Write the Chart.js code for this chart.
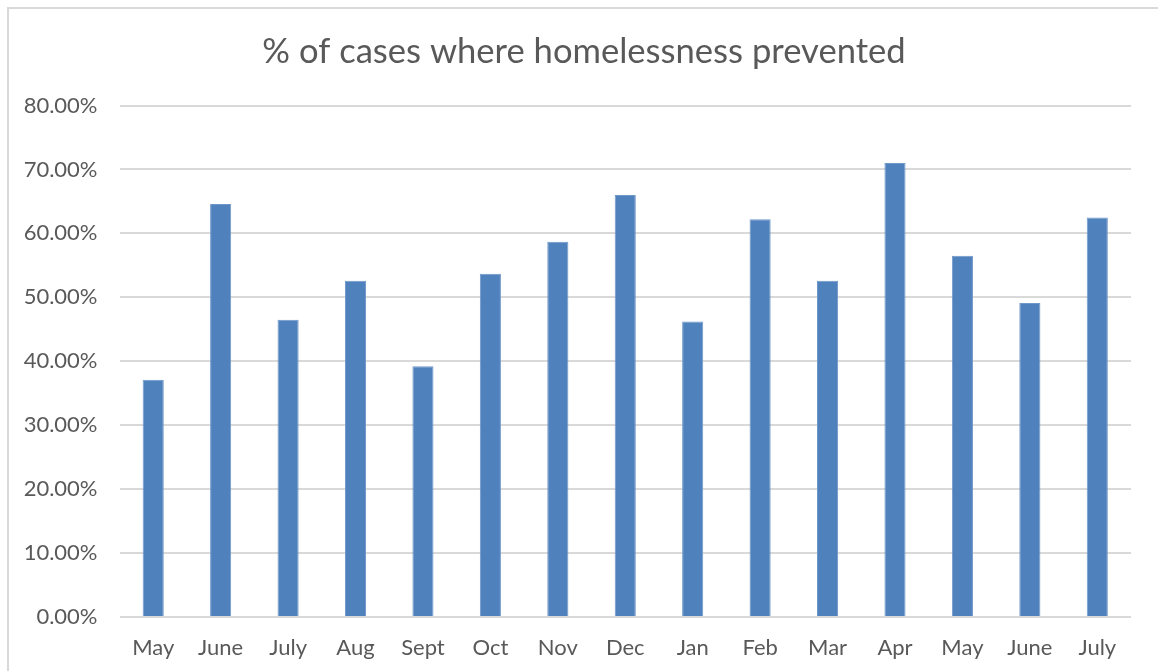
<!DOCTYPE html>
<html lang="en">
<head>
  <meta charset="UTF-8">
  <title>% of cases where homelessness prevented</title>
  <script src="https://cdn.jsdelivr.net/npm/chart.js"></script>
  <style>
    html, body {
      margin: 0;
      padding: 0;
      background: #ffffff;
      overflow: hidden;
    }
    .frame {
      position: absolute;
      left: 7px;
      top: 7px;
      width: 1200px;
      height: 700px;
      border: 2px solid #d9d9d9;
      box-sizing: border-box;
    }
    #chart {
      position: absolute;
      left: 0;
      top: 0;
    }
  </style>
</head>
<body>
  <div class="frame"></div>
  <canvas id="chart" width="1158" height="671"></canvas>
  <script>
    const months = ['May', 'June', 'July', 'Aug', 'Sept', 'Oct', 'Nov', 'Dec',
                    'Jan', 'Feb', 'Mar', 'Apr', 'May', 'June', 'July'];
    const prevented = [37.1, 64.6, 46.5, 52.6, 39.2, 53.7, 58.7, 66.0,
                       46.2, 62.2, 52.6, 71.0, 56.5, 49.1, 62.5];
    const yTicks = [0, 10, 20, 30, 40, 50, 60, 70, 80];

    const textColor = '#595959';
    const gridColor = '#d9d9d9';
    const fontFamily = 'Lato, "Open Sans", sans-serif';

    // the original title sits a bit right of the canvas centre
    const shiftTitle = {
      id: 'shiftTitle',
      afterLayout(chart) {
        if (chart.titleBlock) {
          chart.titleBlock.left = 37;
          chart.titleBlock.right = 1131;
        }
      }
    };

    new Chart(document.getElementById('chart').getContext('2d'), {
      type: 'bar',
      data: {
        labels: months,
        datasets: [{
          label: '% of cases where homelessness prevented',
          data: prevented,
          backgroundColor: '#4f81bd',
          borderColor: '#6f97c9',
          borderWidth: 1,
          categoryPercentage: 1,
          barPercentage: 0.313
        }]
      },
      options: {
        responsive: false,
        animation: false,
        layout: {
          padding: { left: 10, right: 27, top: 0, bottom: 0 }
        },
        plugins: {
          legend: { display: false },
          tooltip: { enabled: false },
          title: {
            display: true,
            text: '% of cases where homelessness prevented',
            color: textColor,
            font: { family: fontFamily, size: 34.6, weight: 'normal' },
            padding: { top: 31, bottom: 33 }
          }
        },
        scales: {
          x: {
            grid: { display: false, drawTicks: false },
            border: { display: false },
            ticks: {
              color: textColor,
              font: { family: fontFamily, size: 22 },
              padding: 18,
              maxRotation: 0,
              autoSkip: false
            },
            afterFit: scale => { scale.height = 54; }
          },
          y: {
            min: 0,
            max: 80,
            afterBuildTicks: scale => {
              scale.ticks = yTicks.map(v => ({ value: v }));
            },
            grid: {
              color: gridColor,
              lineWidth: 2,
              drawTicks: false
            },
            border: { display: false },
            ticks: {
              color: textColor,
              font: { family: fontFamily, size: 22 },
              padding: 22,
              callback: v => v.toFixed(2) + '%'
            },
            afterFit: scale => { scale.width = 109.5; }
          }
        }
      },
      plugins: [shiftTitle]
    });
  </script>
</body>
</html>
